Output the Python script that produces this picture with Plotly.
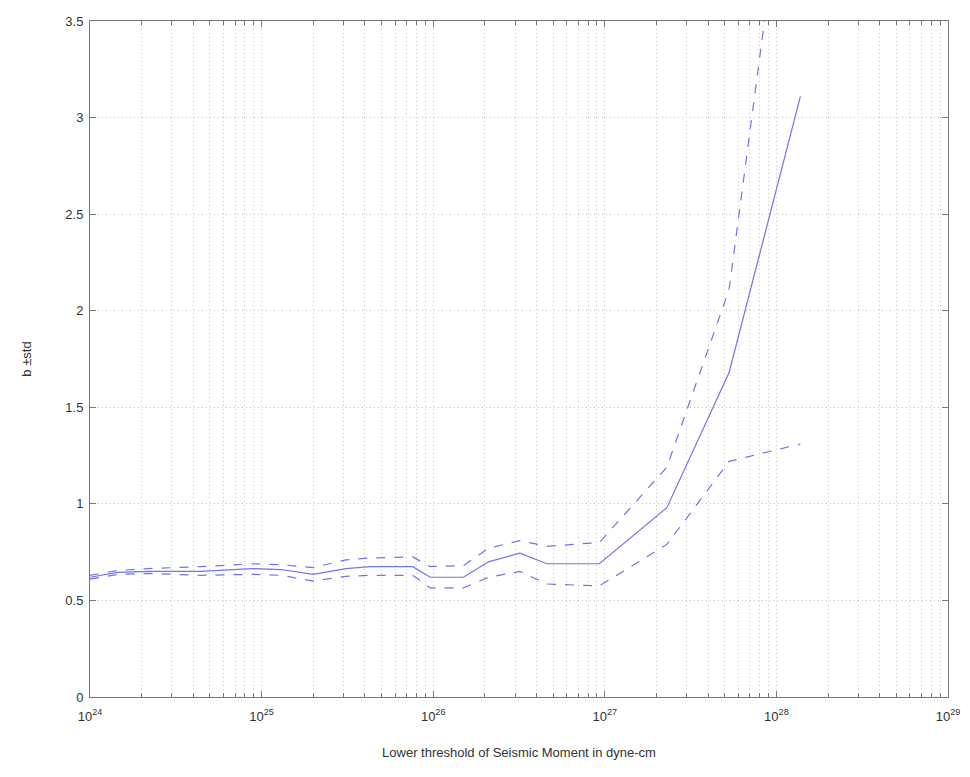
import plotly.graph_objects as go

# Lower threshold of seismic moment (dyne-cm)
moment = [1.0e24, 1.45e24, 2.2e24, 4.4e24, 8.8e24, 1.3e25, 2.0e25, 3.1e25,
          4.3e25, 7.6e25, 9.6e25, 1.5e26, 2.1e26, 3.2e26, 4.6e26, 9.3e26,
          2.3e27, 5.3e27, 1.38e28]
# b-value
b_val = [0.62, 0.645, 0.65, 0.65, 0.665, 0.66, 0.635, 0.665,
         0.675, 0.675, 0.62, 0.62, 0.70, 0.745, 0.69, 0.69,
         0.98, 1.68, 3.11]
# b + std
b_plus = [0.63, 0.655, 0.665, 0.675, 0.69, 0.685, 0.67, 0.71,
          0.72, 0.725, 0.675, 0.68, 0.77, 0.81, 0.78, 0.80,
          1.19, 2.11, 4.91]
# b - std
b_minus = [0.61, 0.635, 0.64, 0.63, 0.635, 0.63, 0.60, 0.625,
           0.63, 0.63, 0.565, 0.565, 0.62, 0.65, 0.585, 0.575,
           0.79, 1.22, 1.31]

x_tickvals = [1e24, 1e25, 1e26, 1e27, 1e28, 1e29]
x_ticktext = ["10<sup>24</sup>", "10<sup>25</sup>", "10<sup>26</sup>",
              "10<sup>27</sup>", "10<sup>28</sup>", "10<sup>29</sup>"]
y_tickvals = [0, 0.5, 1, 1.5, 2, 2.5, 3, 3.5]
y_ticktext = ["0", "0.5", "1", "1.5", "2", "2.5", "3", "3.5"]

line_color = "rgb(115,115,235)"
grid_color = "rgb(195,195,195)"
axis_color = "rgb(120,120,120)"
grid_dash = "1px,3px"

fig = go.Figure()
fig.add_trace(go.Scatter(x=moment, y=b_val, mode="lines",
                         line=dict(color=line_color, width=1.2)))
fig.add_trace(go.Scatter(x=moment, y=b_plus, mode="lines",
                         line=dict(color=line_color, width=1.2, dash="dash")))
fig.add_trace(go.Scatter(x=moment, y=b_minus, mode="lines",
                         line=dict(color=line_color, width=1.2, dash="dash")))

fig.update_layout(
    width=970, height=777,
    margin=dict(l=90, r=22, t=21, b=80, autoexpand=False),
    paper_bgcolor="white", plot_bgcolor="white",
    showlegend=False,
    font=dict(family="Liberation Sans, Arial, sans-serif", size=13, color="rgb(50,50,50)"),
)
fig.update_xaxes(
    type="log", range=[24, 29], tickvals=x_tickvals, ticktext=x_ticktext,
    automargin=False, ticklabelstandoff=7,
    showline=True, linecolor=axis_color, linewidth=1, mirror="allticks",
    ticks="inside", ticklen=6, tickcolor=axis_color,
    showgrid=True, gridcolor=grid_color, griddash=grid_dash, gridwidth=1,
    minor=dict(dtick="D1", ticks="inside", ticklen=4, tickcolor=axis_color,
               showgrid=True, gridcolor=grid_color, griddash=grid_dash, gridwidth=1),
    zeroline=False,
    title=dict(text="Lower threshold of Seismic Moment in dyne-cm", standoff=25,
               font=dict(size=13)),
)
fig.update_yaxes(
    range=[0, 3.5], tickvals=y_tickvals, ticktext=y_ticktext,
    automargin=False, ticklabelstandoff=3,
    showline=True, linecolor=axis_color, linewidth=1, mirror="allticks",
    ticks="inside", ticklen=6, tickcolor=axis_color,
    showgrid=True, gridcolor=grid_color, griddash=grid_dash, gridwidth=1,
    zeroline=False,
    title=dict(text="b ±std", standoff=30, font=dict(size=13)),
)

fig.write_html("out.html")
